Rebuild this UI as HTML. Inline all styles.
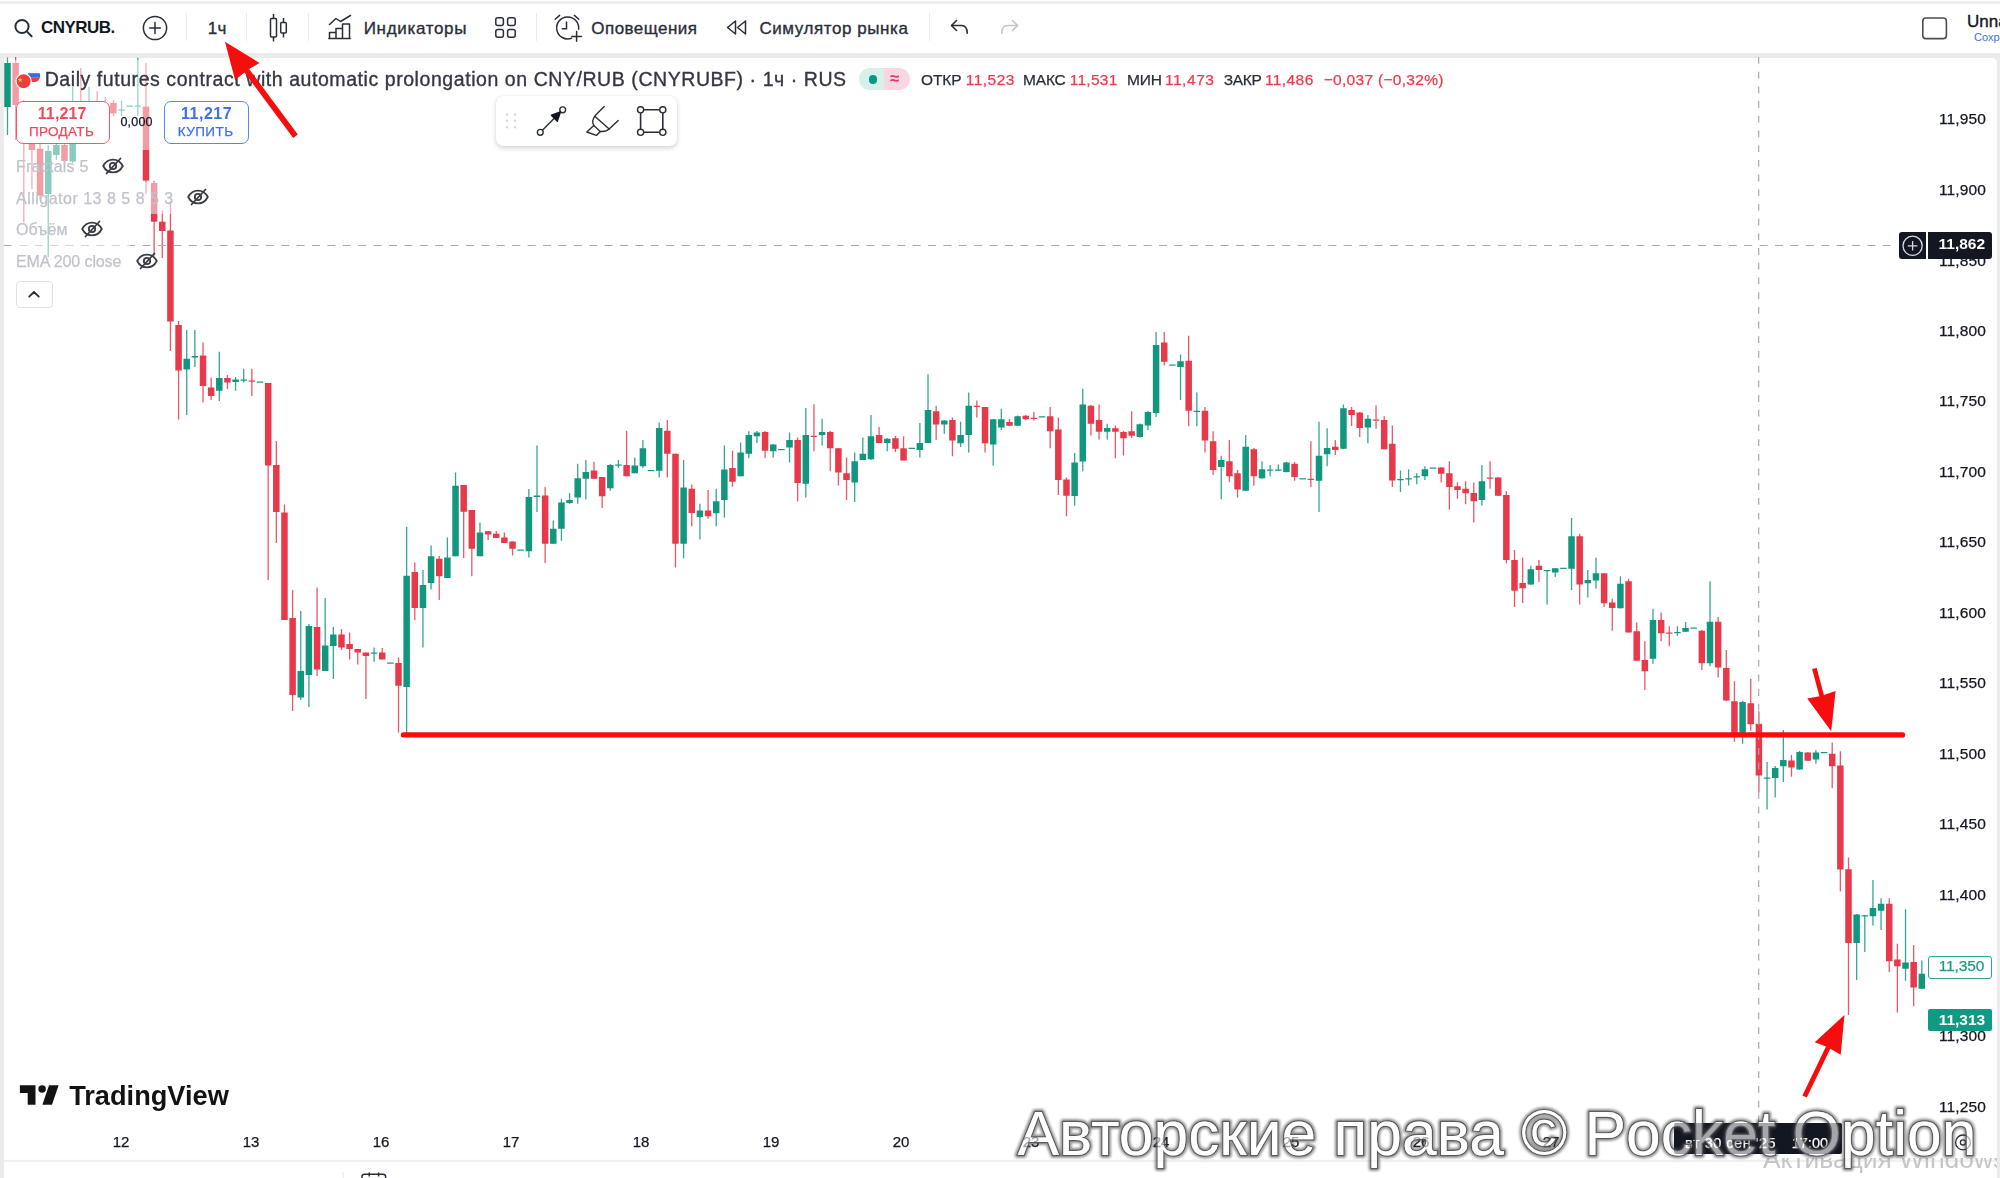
<!DOCTYPE html><html lang="ru"><head><meta charset="utf-8"><title>CNYRUBF chart</title><style>
*{box-sizing:border-box;margin:0;padding:0}
html,body{width:2000px;height:1178px;overflow:hidden;background:#fff}
body{font-family:"Liberation Sans","DejaVu Sans",sans-serif;color:#131722;position:relative}
.abs{position:absolute}
.t{position:absolute;white-space:nowrap;line-height:1;transform-origin:0 0}
#topstrip{left:0;top:1.4px;width:2000px;height:2.8px;background:#efefef}
#toolbar{left:0;top:4px;width:2000px;height:48px;background:#fff}
#band{left:0;top:52.6px;width:2000px;height:5.2px;background:#ebebeb}
#leftcol{left:0;top:52.6px;width:3.8px;height:1126px;background:#ebebeb}
#rightcol{left:1997px;top:52.6px;width:3px;height:1126px;background:#ebebeb}
#pane{left:3.8px;top:57.6px;width:1993.2px;height:1121px;background:#fff;border-radius:0 5px 0 0}
.sep{position:absolute;top:13px;width:1px;height:28px;background:#ebebee}
.tb{font-size:17px;color:#2a2e39;top:18px}
.pl{position:absolute;left:1937px;font-size:15.5px;letter-spacing:.12px;line-height:1;color:#131722;white-space:nowrap;width:49px;text-align:right}
.dl{position:absolute;top:1134px;font-size:15px;line-height:1;color:#131722;white-space:nowrap;width:40px;text-align:center}
#tb_tf,#tb_ind,#tb_al,#tb_sim,#lg_title,#tb_unn{-webkit-text-stroke:.35px currentColor}
.pl,.dl,#lg_o,#lg_h,#lg_l,#lg_c,#lg_ov,#lg_hv,#lg_lv,#lg_cv,#lg_ch,#spread,#sell_l,#buy_l,.lg,#ax_350,#ax_time,#ax_time2{-webkit-text-stroke:.25px currentColor}
.fade{position:absolute;background:rgba(255,255,255,.5)}
.lg{position:absolute;left:16px;font-size:16px;line-height:1;color:#c0c3ca;margin-top:.7px;white-space:nowrap}
#tb_sym{left:41.10px !important;letter-spacing:-0.550px}
#tb_tf{left:207.70px !important;letter-spacing:0.244px}
#tb_ind{left:363.70px !important;letter-spacing:0.676px}
#tb_al{left:591.30px !important;letter-spacing:0.457px}
#tb_sim{left:759.40px !important;letter-spacing:0.575px}
#lg_title{left:44.70px !important;letter-spacing:0.564px}
#lg_o{left:920.90px !important;letter-spacing:-0.027px}
#lg_ov{left:965.70px !important;letter-spacing:0.489px}
#lg_h{left:1022.90px !important;letter-spacing:-0.128px}
#lg_hv{left:1069.70px !important;letter-spacing:0.289px}
#lg_l{left:1126.90px !important;letter-spacing:-0.150px}
#lg_lv{left:1164.90px !important;letter-spacing:0.556px}
#lg_c{left:1223.70px !important;letter-spacing:-0.270px}
#lg_cv{left:1264.90px !important;letter-spacing:0.422px}
#lg_ch{left:1323.70px !important;letter-spacing:0.301px}
#lg1{left:16.00px !important;letter-spacing:0.245px}
#lg2{left:16.00px !important;letter-spacing:0.497px}
#lg3{left:16.00px !important;letter-spacing:0.143px}
#lg4{left:16.00px !important;letter-spacing:-0.110px}
#sell_p{left:37.70px !important;letter-spacing:0.156px}
#sell_l{left:28.90px !important;letter-spacing:0.339px}
#buy_p{left:180.95px !important;letter-spacing:0.531px}
#buy_l{left:177.70px !important;letter-spacing:0.440px}
#spread{left:120.45px !important;letter-spacing:0.194px}
#ax_time{left:1685.10px !important;letter-spacing:0.502px}
#ax_time2{left:1791.70px !important;letter-spacing:0.021px}
#tvlogo{left:69.20px !important;letter-spacing:-0.169px}
#ax_cross{left:1938.50px !important;letter-spacing:0.006px}
#ax_350{left:1938.70px !important;letter-spacing:-0.111px}
#ax_313{left:1938.70px !important;letter-spacing:-0.027px}
</style></head><body>
<div id="topstrip" class="abs"></div><div id="toolbar" class="abs"></div><div id="band" class="abs"></div>
<div class="abs" style="left:1989px;top:57px;width:8px;height:8px;background:#ebebeb"></div><div id="pane" class="abs"></div><div id="leftcol" class="abs"></div><div id="rightcol" class="abs"></div>
<svg class="abs" style="left:0;top:0" width="2000" height="1178" viewBox="0 0 2000 1178">
<g style="filter:blur(.35px)">
<rect x="6.85" y="57.50" width="1.3" height="77.50" fill="#12977f" opacity=".85"/>
<rect x="4.25" y="63.00" width="6.5" height="44.00" fill="#12977f"/>
<rect x="15.00" y="57.00" width="1.3" height="83.00" fill="#e8394b" opacity=".85"/>
<rect x="12.40" y="63.00" width="6.5" height="42.00" fill="#e8394b"/>
<rect x="23.14" y="100.00" width="1.3" height="122.50" fill="#e8394b" opacity=".85"/>
<rect x="20.54" y="120.00" width="6.5" height="21.00" fill="#e8394b"/>
<rect x="31.29" y="120.00" width="1.3" height="69.00" fill="#e8394b" opacity=".85"/>
<rect x="28.69" y="144.00" width="6.5" height="6.00" fill="#e8394b"/>
<rect x="39.43" y="143.00" width="1.3" height="56.00" fill="#e8394b" opacity=".85"/>
<rect x="36.83" y="148.70" width="6.5" height="46.80" fill="#e8394b"/>
<rect x="47.58" y="145.00" width="1.3" height="112.00" fill="#12977f" opacity=".85"/>
<rect x="44.98" y="151.00" width="6.5" height="43.00" fill="#12977f"/>
<rect x="55.73" y="143.00" width="1.3" height="17.00" fill="#12977f" opacity=".85"/>
<rect x="53.13" y="145.00" width="6.5" height="10.00" fill="#12977f"/>
<rect x="63.87" y="143.00" width="1.3" height="20.00" fill="#e8394b" opacity=".85"/>
<rect x="61.27" y="145.00" width="6.5" height="16.00" fill="#e8394b"/>
<rect x="72.02" y="87.00" width="1.3" height="76.00" fill="#12977f" opacity=".85"/>
<rect x="69.42" y="130.00" width="6.5" height="31.50" fill="#12977f"/>
<rect x="80.16" y="68.00" width="1.3" height="70.00" fill="#e8394b" opacity=".85"/>
<rect x="77.56" y="110.00" width="6.5" height="25.00" fill="#e8394b"/>
<rect x="88.31" y="87.00" width="1.3" height="50.00" fill="#12977f" opacity=".85"/>
<rect x="85.71" y="112.00" width="6.5" height="23.00" fill="#12977f"/>
<rect x="96.46" y="91.00" width="1.3" height="37.00" fill="#e8394b" opacity=".85"/>
<rect x="93.86" y="108.00" width="6.5" height="17.00" fill="#e8394b"/>
<rect x="104.60" y="97.00" width="1.3" height="25.00" fill="#e8394b" opacity=".85"/>
<rect x="102.00" y="104.00" width="6.5" height="14.00" fill="#e8394b"/>
<rect x="112.75" y="100.00" width="1.3" height="16.00" fill="#e8394b" opacity=".85"/>
<rect x="110.15" y="103.00" width="6.5" height="10.40" fill="#e8394b"/>
<rect x="120.89" y="100.50" width="1.3" height="15.50" fill="#12977f" opacity=".85"/>
<rect x="118.29" y="109.50" width="6.5" height="1.20" fill="#12977f"/>
<rect x="126.44" y="105.50" width="6.5" height="1.20" fill="#12977f"/>
<rect x="137.19" y="57.70" width="1.3" height="58.30" fill="#12977f" opacity=".85"/>
<rect x="134.59" y="105.50" width="6.5" height="1.20" fill="#12977f"/>
<rect x="145.33" y="63.00" width="1.3" height="130.70" fill="#e8394b" opacity=".85"/>
<rect x="142.73" y="106.60" width="6.5" height="74.00" fill="#e8394b"/>
<rect x="153.48" y="181.00" width="1.3" height="74.60" fill="#e8394b" opacity=".85"/>
<rect x="150.88" y="183.00" width="6.5" height="38.70" fill="#e8394b"/>
<rect x="161.62" y="210.60" width="1.3" height="47.40" fill="#e8394b" opacity=".85"/>
<rect x="159.02" y="221.70" width="6.5" height="9.30" fill="#e8394b"/>
<rect x="169.77" y="201.00" width="1.3" height="150.00" fill="#e8394b" opacity=".85"/>
<rect x="167.17" y="230.50" width="6.5" height="91.00" fill="#e8394b"/>
<rect x="177.92" y="321.00" width="1.3" height="98.50" fill="#e8394b" opacity=".85"/>
<rect x="175.32" y="325.00" width="6.5" height="45.50" fill="#e8394b"/>
<rect x="186.06" y="330.00" width="1.3" height="85.00" fill="#12977f" opacity=".85"/>
<rect x="183.46" y="358.75" width="6.5" height="10.75" fill="#12977f"/>
<rect x="194.21" y="330.00" width="1.3" height="37.00" fill="#12977f" opacity=".85"/>
<rect x="191.61" y="356.00" width="6.5" height="1.50" fill="#12977f"/>
<rect x="202.35" y="342.50" width="1.3" height="60.00" fill="#e8394b" opacity=".85"/>
<rect x="199.75" y="355.50" width="6.5" height="30.50" fill="#e8394b"/>
<rect x="210.50" y="377.50" width="1.3" height="22.50" fill="#e8394b" opacity=".85"/>
<rect x="207.90" y="387.50" width="6.5" height="8.50" fill="#e8394b"/>
<rect x="218.65" y="351.75" width="1.3" height="49.25" fill="#12977f" opacity=".85"/>
<rect x="216.05" y="378.00" width="6.5" height="12.75" fill="#12977f"/>
<rect x="226.79" y="375.00" width="1.3" height="14.00" fill="#e8394b" opacity=".85"/>
<rect x="224.19" y="378.00" width="6.5" height="4.50" fill="#e8394b"/>
<rect x="234.94" y="377.00" width="1.3" height="13.75" fill="#12977f" opacity=".85"/>
<rect x="232.34" y="379.50" width="6.5" height="2.50" fill="#12977f"/>
<rect x="243.08" y="368.75" width="1.3" height="13.75" fill="#12977f" opacity=".85"/>
<rect x="240.48" y="379.50" width="6.5" height="1.20" fill="#12977f"/>
<rect x="251.23" y="368.75" width="1.3" height="27.25" fill="#e8394b" opacity=".85"/>
<rect x="248.63" y="380.50" width="6.5" height="1.20" fill="#e8394b"/>
<rect x="256.78" y="381.50" width="6.5" height="1.20" fill="#12977f"/>
<rect x="267.52" y="383.00" width="1.3" height="197.00" fill="#e8394b" opacity=".85"/>
<rect x="264.92" y="383.00" width="6.5" height="82.50" fill="#e8394b"/>
<rect x="275.67" y="441.00" width="1.3" height="102.00" fill="#e8394b" opacity=".85"/>
<rect x="273.07" y="465.00" width="6.5" height="47.00" fill="#e8394b"/>
<rect x="283.81" y="504.50" width="1.3" height="115.50" fill="#e8394b" opacity=".85"/>
<rect x="281.21" y="512.50" width="6.5" height="107.50" fill="#e8394b"/>
<rect x="291.96" y="590.00" width="1.3" height="121.00" fill="#e8394b" opacity=".85"/>
<rect x="289.36" y="618.00" width="6.5" height="77.00" fill="#e8394b"/>
<rect x="300.11" y="611.00" width="1.3" height="89.00" fill="#12977f" opacity=".85"/>
<rect x="297.51" y="671.00" width="6.5" height="26.50" fill="#12977f"/>
<rect x="308.25" y="624.00" width="1.3" height="83.00" fill="#12977f" opacity=".85"/>
<rect x="305.65" y="626.00" width="6.5" height="49.00" fill="#12977f"/>
<rect x="316.40" y="587.50" width="1.3" height="88.50" fill="#e8394b" opacity=".85"/>
<rect x="313.80" y="627.00" width="6.5" height="42.50" fill="#e8394b"/>
<rect x="324.54" y="598.00" width="1.3" height="73.00" fill="#12977f" opacity=".85"/>
<rect x="321.94" y="645.50" width="6.5" height="25.50" fill="#12977f"/>
<rect x="332.69" y="627.00" width="1.3" height="52.00" fill="#12977f" opacity=".85"/>
<rect x="330.09" y="634.50" width="6.5" height="11.50" fill="#12977f"/>
<rect x="340.84" y="629.00" width="1.3" height="21.00" fill="#e8394b" opacity=".85"/>
<rect x="338.24" y="634.50" width="6.5" height="13.00" fill="#e8394b"/>
<rect x="348.98" y="632.50" width="1.3" height="27.00" fill="#e8394b" opacity=".85"/>
<rect x="346.38" y="644.00" width="6.5" height="5.00" fill="#e8394b"/>
<rect x="357.13" y="649.00" width="1.3" height="15.50" fill="#e8394b" opacity=".85"/>
<rect x="354.53" y="649.00" width="6.5" height="3.50" fill="#e8394b"/>
<rect x="365.27" y="652.50" width="1.3" height="46.50" fill="#e8394b" opacity=".85"/>
<rect x="362.67" y="652.50" width="6.5" height="3.50" fill="#e8394b"/>
<rect x="373.42" y="647.50" width="1.3" height="14.25" fill="#12977f" opacity=".85"/>
<rect x="370.82" y="652.50" width="6.5" height="1.20" fill="#12977f"/>
<rect x="381.57" y="648.00" width="1.3" height="11.50" fill="#e8394b" opacity=".85"/>
<rect x="378.97" y="652.50" width="6.5" height="7.00" fill="#e8394b"/>
<rect x="387.11" y="662.50" width="6.5" height="1.20" fill="#12977f"/>
<rect x="397.86" y="657.50" width="1.3" height="75.00" fill="#e8394b" opacity=".85"/>
<rect x="395.26" y="663.00" width="6.5" height="22.75" fill="#e8394b"/>
<rect x="406.00" y="526.75" width="1.3" height="207.25" fill="#12977f" opacity=".85"/>
<rect x="403.40" y="575.75" width="6.5" height="111.25" fill="#12977f"/>
<rect x="414.15" y="562.50" width="1.3" height="57.50" fill="#e8394b" opacity=".85"/>
<rect x="411.55" y="572.00" width="6.5" height="36.00" fill="#e8394b"/>
<rect x="422.30" y="570.00" width="1.3" height="77.50" fill="#12977f" opacity=".85"/>
<rect x="419.70" y="585.00" width="6.5" height="23.00" fill="#12977f"/>
<rect x="430.44" y="545.50" width="1.3" height="44.00" fill="#12977f" opacity=".85"/>
<rect x="427.84" y="556.25" width="6.5" height="26.75" fill="#12977f"/>
<rect x="438.59" y="556.00" width="1.3" height="44.00" fill="#e8394b" opacity=".85"/>
<rect x="435.99" y="558.75" width="6.5" height="17.50" fill="#e8394b"/>
<rect x="446.73" y="537.50" width="1.3" height="40.50" fill="#12977f" opacity=".85"/>
<rect x="444.13" y="557.50" width="6.5" height="20.50" fill="#12977f"/>
<rect x="454.88" y="472.50" width="1.3" height="83.75" fill="#12977f" opacity=".85"/>
<rect x="452.28" y="485.75" width="6.5" height="70.50" fill="#12977f"/>
<rect x="463.03" y="485.00" width="1.3" height="73.00" fill="#e8394b" opacity=".85"/>
<rect x="460.43" y="485.00" width="6.5" height="26.75" fill="#e8394b"/>
<rect x="471.17" y="510.00" width="1.3" height="66.25" fill="#e8394b" opacity=".85"/>
<rect x="468.57" y="510.00" width="6.5" height="38.75" fill="#e8394b"/>
<rect x="479.32" y="522.50" width="1.3" height="33.75" fill="#12977f" opacity=".85"/>
<rect x="476.72" y="532.50" width="6.5" height="23.75" fill="#12977f"/>
<rect x="487.46" y="531.00" width="1.3" height="9.00" fill="#e8394b" opacity=".85"/>
<rect x="484.86" y="531.25" width="6.5" height="3.25" fill="#e8394b"/>
<rect x="495.61" y="531.00" width="1.3" height="7.00" fill="#e8394b" opacity=".85"/>
<rect x="493.01" y="533.75" width="6.5" height="4.25" fill="#e8394b"/>
<rect x="503.76" y="532.50" width="1.3" height="10.50" fill="#e8394b" opacity=".85"/>
<rect x="501.16" y="537.50" width="6.5" height="5.50" fill="#e8394b"/>
<rect x="511.90" y="541.50" width="1.3" height="14.00" fill="#e8394b" opacity=".85"/>
<rect x="509.30" y="541.50" width="6.5" height="7.25" fill="#e8394b"/>
<rect x="517.45" y="549.50" width="6.5" height="1.20" fill="#12977f"/>
<rect x="528.19" y="489.00" width="1.3" height="68.50" fill="#12977f" opacity=".85"/>
<rect x="525.59" y="497.00" width="6.5" height="54.25" fill="#12977f"/>
<rect x="536.34" y="445.50" width="1.3" height="66.50" fill="#12977f" opacity=".85"/>
<rect x="533.74" y="495.50" width="6.5" height="1.50" fill="#12977f"/>
<rect x="544.49" y="487.00" width="1.3" height="76.00" fill="#e8394b" opacity=".85"/>
<rect x="541.89" y="495.50" width="6.5" height="48.25" fill="#e8394b"/>
<rect x="552.63" y="520.50" width="1.3" height="23.25" fill="#12977f" opacity=".85"/>
<rect x="550.03" y="528.75" width="6.5" height="15.00" fill="#12977f"/>
<rect x="560.78" y="498.75" width="1.3" height="42.00" fill="#12977f" opacity=".85"/>
<rect x="558.18" y="502.50" width="6.5" height="26.25" fill="#12977f"/>
<rect x="568.92" y="493.00" width="1.3" height="11.00" fill="#12977f" opacity=".85"/>
<rect x="566.32" y="500.00" width="6.5" height="3.00" fill="#12977f"/>
<rect x="577.07" y="463.75" width="1.3" height="40.00" fill="#12977f" opacity=".85"/>
<rect x="574.47" y="478.25" width="6.5" height="19.25" fill="#12977f"/>
<rect x="585.22" y="460.00" width="1.3" height="39.50" fill="#12977f" opacity=".85"/>
<rect x="582.62" y="472.00" width="6.5" height="6.75" fill="#12977f"/>
<rect x="593.36" y="461.75" width="1.3" height="17.00" fill="#e8394b" opacity=".85"/>
<rect x="590.76" y="470.50" width="6.5" height="8.25" fill="#e8394b"/>
<rect x="601.51" y="477.00" width="1.3" height="31.00" fill="#e8394b" opacity=".85"/>
<rect x="598.91" y="477.00" width="6.5" height="19.25" fill="#e8394b"/>
<rect x="609.65" y="464.00" width="1.3" height="26.75" fill="#12977f" opacity=".85"/>
<rect x="607.05" y="465.00" width="6.5" height="23.25" fill="#12977f"/>
<rect x="617.80" y="460.00" width="1.3" height="8.00" fill="#12977f" opacity=".85"/>
<rect x="615.20" y="464.50" width="6.5" height="1.20" fill="#12977f"/>
<rect x="625.95" y="430.75" width="1.3" height="45.50" fill="#e8394b" opacity=".85"/>
<rect x="623.35" y="465.00" width="6.5" height="11.25" fill="#e8394b"/>
<rect x="634.09" y="457.50" width="1.3" height="15.75" fill="#12977f" opacity=".85"/>
<rect x="631.49" y="465.50" width="6.5" height="7.75" fill="#12977f"/>
<rect x="642.24" y="440.00" width="1.3" height="28.00" fill="#12977f" opacity=".85"/>
<rect x="639.64" y="448.25" width="6.5" height="18.00" fill="#12977f"/>
<rect x="647.78" y="470.00" width="6.5" height="1.20" fill="#12977f"/>
<rect x="658.53" y="422.50" width="1.3" height="55.00" fill="#12977f" opacity=".85"/>
<rect x="655.93" y="428.00" width="6.5" height="42.75" fill="#12977f"/>
<rect x="666.68" y="420.00" width="1.3" height="57.50" fill="#e8394b" opacity=".85"/>
<rect x="664.08" y="430.75" width="6.5" height="23.00" fill="#e8394b"/>
<rect x="674.82" y="453.75" width="1.3" height="113.75" fill="#e8394b" opacity=".85"/>
<rect x="672.22" y="453.75" width="6.5" height="90.00" fill="#e8394b"/>
<rect x="682.97" y="460.00" width="1.3" height="98.25" fill="#12977f" opacity=".85"/>
<rect x="680.37" y="487.50" width="6.5" height="56.25" fill="#12977f"/>
<rect x="691.11" y="484.50" width="1.3" height="41.75" fill="#e8394b" opacity=".85"/>
<rect x="688.51" y="488.75" width="6.5" height="24.25" fill="#e8394b"/>
<rect x="699.26" y="503.75" width="1.3" height="35.75" fill="#12977f" opacity=".85"/>
<rect x="696.66" y="510.50" width="6.5" height="6.50" fill="#12977f"/>
<rect x="707.41" y="490.00" width="1.3" height="28.75" fill="#e8394b" opacity=".85"/>
<rect x="704.81" y="510.50" width="6.5" height="5.75" fill="#e8394b"/>
<rect x="715.55" y="488.75" width="1.3" height="37.50" fill="#12977f" opacity=".85"/>
<rect x="712.95" y="501.25" width="6.5" height="12.00" fill="#12977f"/>
<rect x="723.70" y="445.50" width="1.3" height="72.00" fill="#12977f" opacity=".85"/>
<rect x="721.10" y="469.50" width="6.5" height="30.50" fill="#12977f"/>
<rect x="731.84" y="450.75" width="1.3" height="36.00" fill="#e8394b" opacity=".85"/>
<rect x="729.24" y="468.00" width="6.5" height="13.75" fill="#e8394b"/>
<rect x="739.99" y="442.50" width="1.3" height="33.75" fill="#12977f" opacity=".85"/>
<rect x="737.39" y="452.50" width="6.5" height="23.75" fill="#12977f"/>
<rect x="748.14" y="431.25" width="1.3" height="26.75" fill="#12977f" opacity=".85"/>
<rect x="745.54" y="435.00" width="6.5" height="18.75" fill="#12977f"/>
<rect x="756.28" y="431.00" width="1.3" height="12.00" fill="#12977f" opacity=".85"/>
<rect x="753.68" y="432.50" width="6.5" height="3.75" fill="#12977f"/>
<rect x="764.43" y="431.00" width="1.3" height="27.00" fill="#e8394b" opacity=".85"/>
<rect x="761.83" y="432.00" width="6.5" height="18.75" fill="#e8394b"/>
<rect x="772.57" y="444.00" width="1.3" height="13.50" fill="#12977f" opacity=".85"/>
<rect x="769.97" y="444.50" width="6.5" height="6.75" fill="#12977f"/>
<rect x="778.12" y="449.00" width="6.5" height="1.20" fill="#12977f"/>
<rect x="788.87" y="432.50" width="1.3" height="30.00" fill="#12977f" opacity=".85"/>
<rect x="786.27" y="440.00" width="6.5" height="7.50" fill="#12977f"/>
<rect x="797.01" y="437.50" width="1.3" height="64.00" fill="#e8394b" opacity=".85"/>
<rect x="794.41" y="440.00" width="6.5" height="43.00" fill="#e8394b"/>
<rect x="805.16" y="408.00" width="1.3" height="89.50" fill="#12977f" opacity=".85"/>
<rect x="802.56" y="435.00" width="6.5" height="48.75" fill="#12977f"/>
<rect x="813.30" y="404.25" width="1.3" height="47.00" fill="#e8394b" opacity=".85"/>
<rect x="810.70" y="435.75" width="6.5" height="1.20" fill="#e8394b"/>
<rect x="821.45" y="418.75" width="1.3" height="26.75" fill="#12977f" opacity=".85"/>
<rect x="818.85" y="432.00" width="6.5" height="3.00" fill="#12977f"/>
<rect x="829.60" y="431.00" width="1.3" height="40.25" fill="#e8394b" opacity=".85"/>
<rect x="827.00" y="432.00" width="6.5" height="16.25" fill="#e8394b"/>
<rect x="837.74" y="448.00" width="1.3" height="37.50" fill="#e8394b" opacity=".85"/>
<rect x="835.14" y="448.25" width="6.5" height="24.25" fill="#e8394b"/>
<rect x="845.89" y="457.50" width="1.3" height="42.50" fill="#e8394b" opacity=".85"/>
<rect x="843.29" y="473.25" width="6.5" height="6.75" fill="#e8394b"/>
<rect x="854.03" y="452.50" width="1.3" height="49.50" fill="#12977f" opacity=".85"/>
<rect x="851.43" y="461.25" width="6.5" height="21.25" fill="#12977f"/>
<rect x="862.18" y="437.50" width="1.3" height="22.50" fill="#12977f" opacity=".85"/>
<rect x="859.58" y="453.75" width="6.5" height="6.25" fill="#12977f"/>
<rect x="870.33" y="415.00" width="1.3" height="45.00" fill="#12977f" opacity=".85"/>
<rect x="867.73" y="436.25" width="6.5" height="23.00" fill="#12977f"/>
<rect x="878.47" y="427.00" width="1.3" height="16.00" fill="#e8394b" opacity=".85"/>
<rect x="875.87" y="435.00" width="6.5" height="8.00" fill="#e8394b"/>
<rect x="886.62" y="438.00" width="1.3" height="13.25" fill="#12977f" opacity=".85"/>
<rect x="884.02" y="438.75" width="6.5" height="4.25" fill="#12977f"/>
<rect x="894.76" y="436.00" width="1.3" height="16.00" fill="#e8394b" opacity=".85"/>
<rect x="892.16" y="438.25" width="6.5" height="10.50" fill="#e8394b"/>
<rect x="902.91" y="436.25" width="1.3" height="24.25" fill="#e8394b" opacity=".85"/>
<rect x="900.31" y="448.25" width="6.5" height="12.25" fill="#e8394b"/>
<rect x="908.46" y="447.75" width="6.5" height="1.20" fill="#12977f"/>
<rect x="919.20" y="423.00" width="1.3" height="34.50" fill="#12977f" opacity=".85"/>
<rect x="916.60" y="443.00" width="6.5" height="7.00" fill="#12977f"/>
<rect x="927.35" y="374.25" width="1.3" height="68.75" fill="#12977f" opacity=".85"/>
<rect x="924.75" y="410.00" width="6.5" height="33.00" fill="#12977f"/>
<rect x="935.49" y="405.75" width="1.3" height="34.25" fill="#e8394b" opacity=".85"/>
<rect x="932.89" y="411.25" width="6.5" height="13.25" fill="#e8394b"/>
<rect x="943.64" y="420.00" width="1.3" height="13.75" fill="#12977f" opacity=".85"/>
<rect x="941.04" y="420.50" width="6.5" height="4.00" fill="#12977f"/>
<rect x="951.79" y="417.50" width="1.3" height="38.75" fill="#e8394b" opacity=".85"/>
<rect x="949.19" y="420.00" width="6.5" height="20.50" fill="#e8394b"/>
<rect x="959.93" y="421.75" width="1.3" height="25.25" fill="#12977f" opacity=".85"/>
<rect x="957.33" y="435.00" width="6.5" height="8.25" fill="#12977f"/>
<rect x="968.08" y="392.50" width="1.3" height="60.00" fill="#12977f" opacity=".85"/>
<rect x="965.48" y="405.75" width="6.5" height="29.25" fill="#12977f"/>
<rect x="976.22" y="400.50" width="1.3" height="17.00" fill="#e8394b" opacity=".85"/>
<rect x="973.62" y="405.75" width="6.5" height="1.20" fill="#e8394b"/>
<rect x="984.37" y="407.00" width="1.3" height="45.50" fill="#e8394b" opacity=".85"/>
<rect x="981.77" y="407.00" width="6.5" height="36.25" fill="#e8394b"/>
<rect x="992.52" y="419.00" width="1.3" height="46.75" fill="#12977f" opacity=".85"/>
<rect x="989.92" y="419.25" width="6.5" height="25.25" fill="#12977f"/>
<rect x="1000.66" y="408.75" width="1.3" height="21.25" fill="#12977f" opacity=".85"/>
<rect x="998.06" y="419.25" width="6.5" height="8.25" fill="#12977f"/>
<rect x="1008.81" y="419.00" width="1.3" height="7.00" fill="#e8394b" opacity=".85"/>
<rect x="1006.21" y="422.00" width="6.5" height="3.75" fill="#e8394b"/>
<rect x="1016.95" y="415.50" width="1.3" height="10.50" fill="#12977f" opacity=".85"/>
<rect x="1014.35" y="416.25" width="6.5" height="9.50" fill="#12977f"/>
<rect x="1025.10" y="415.00" width="1.3" height="5.00" fill="#e8394b" opacity=".85"/>
<rect x="1022.50" y="415.75" width="6.5" height="3.50" fill="#e8394b"/>
<rect x="1033.25" y="412.00" width="1.3" height="8.50" fill="#e8394b" opacity=".85"/>
<rect x="1030.65" y="417.75" width="6.5" height="1.20" fill="#e8394b"/>
<rect x="1038.79" y="416.25" width="6.5" height="1.20" fill="#12977f"/>
<rect x="1049.54" y="407.00" width="1.3" height="41.25" fill="#e8394b" opacity=".85"/>
<rect x="1046.94" y="416.25" width="6.5" height="15.00" fill="#e8394b"/>
<rect x="1057.68" y="417.50" width="1.3" height="77.50" fill="#e8394b" opacity=".85"/>
<rect x="1055.08" y="429.50" width="6.5" height="50.50" fill="#e8394b"/>
<rect x="1065.83" y="477.50" width="1.3" height="38.75" fill="#e8394b" opacity=".85"/>
<rect x="1063.23" y="479.50" width="6.5" height="16.25" fill="#e8394b"/>
<rect x="1073.98" y="453.00" width="1.3" height="52.75" fill="#12977f" opacity=".85"/>
<rect x="1071.38" y="462.50" width="6.5" height="33.50" fill="#12977f"/>
<rect x="1082.12" y="388.75" width="1.3" height="82.50" fill="#12977f" opacity=".85"/>
<rect x="1079.52" y="404.50" width="6.5" height="57.00" fill="#12977f"/>
<rect x="1090.27" y="405.00" width="1.3" height="30.50" fill="#e8394b" opacity=".85"/>
<rect x="1087.67" y="405.75" width="6.5" height="18.00" fill="#e8394b"/>
<rect x="1098.41" y="404.50" width="1.3" height="35.00" fill="#e8394b" opacity=".85"/>
<rect x="1095.81" y="420.00" width="6.5" height="11.75" fill="#e8394b"/>
<rect x="1106.56" y="423.75" width="1.3" height="15.75" fill="#12977f" opacity=".85"/>
<rect x="1103.96" y="428.00" width="6.5" height="3.75" fill="#12977f"/>
<rect x="1114.71" y="425.50" width="1.3" height="32.75" fill="#e8394b" opacity=".85"/>
<rect x="1112.11" y="428.25" width="6.5" height="3.50" fill="#e8394b"/>
<rect x="1122.85" y="431.00" width="1.3" height="24.50" fill="#e8394b" opacity=".85"/>
<rect x="1120.25" y="432.00" width="6.5" height="6.25" fill="#e8394b"/>
<rect x="1131.00" y="411.25" width="1.3" height="26.75" fill="#e8394b" opacity=".85"/>
<rect x="1128.40" y="431.25" width="6.5" height="4.50" fill="#e8394b"/>
<rect x="1139.14" y="423.50" width="1.3" height="14.00" fill="#12977f" opacity=".85"/>
<rect x="1136.54" y="424.25" width="6.5" height="12.75" fill="#12977f"/>
<rect x="1147.29" y="411.00" width="1.3" height="19.00" fill="#12977f" opacity=".85"/>
<rect x="1144.69" y="412.00" width="6.5" height="13.50" fill="#12977f"/>
<rect x="1155.44" y="332.00" width="1.3" height="85.00" fill="#12977f" opacity=".85"/>
<rect x="1152.84" y="345.00" width="6.5" height="68.00" fill="#12977f"/>
<rect x="1163.58" y="332.00" width="1.3" height="33.50" fill="#e8394b" opacity=".85"/>
<rect x="1160.98" y="342.50" width="6.5" height="19.25" fill="#e8394b"/>
<rect x="1169.13" y="364.50" width="6.5" height="1.20" fill="#12977f"/>
<rect x="1179.87" y="354.50" width="1.3" height="45.50" fill="#12977f" opacity=".85"/>
<rect x="1177.27" y="361.25" width="6.5" height="5.75" fill="#12977f"/>
<rect x="1188.02" y="335.75" width="1.3" height="90.50" fill="#e8394b" opacity=".85"/>
<rect x="1185.42" y="360.75" width="6.5" height="50.00" fill="#e8394b"/>
<rect x="1196.17" y="392.50" width="1.3" height="33.75" fill="#12977f" opacity=".85"/>
<rect x="1193.57" y="410.75" width="6.5" height="1.20" fill="#12977f"/>
<rect x="1204.31" y="407.00" width="1.3" height="45.50" fill="#e8394b" opacity=".85"/>
<rect x="1201.71" y="410.75" width="6.5" height="29.75" fill="#e8394b"/>
<rect x="1212.46" y="431.25" width="1.3" height="43.75" fill="#e8394b" opacity=".85"/>
<rect x="1209.86" y="441.25" width="6.5" height="28.75" fill="#e8394b"/>
<rect x="1220.60" y="455.75" width="1.3" height="43.50" fill="#12977f" opacity=".85"/>
<rect x="1218.00" y="460.00" width="6.5" height="7.00" fill="#12977f"/>
<rect x="1228.75" y="440.00" width="1.3" height="42.00" fill="#e8394b" opacity=".85"/>
<rect x="1226.15" y="461.25" width="6.5" height="15.00" fill="#e8394b"/>
<rect x="1236.90" y="470.00" width="1.3" height="27.50" fill="#e8394b" opacity=".85"/>
<rect x="1234.30" y="473.25" width="6.5" height="16.25" fill="#e8394b"/>
<rect x="1245.04" y="435.00" width="1.3" height="56.00" fill="#12977f" opacity=".85"/>
<rect x="1242.44" y="446.75" width="6.5" height="44.00" fill="#12977f"/>
<rect x="1253.19" y="448.00" width="1.3" height="37.75" fill="#e8394b" opacity=".85"/>
<rect x="1250.59" y="449.25" width="6.5" height="27.00" fill="#e8394b"/>
<rect x="1261.33" y="461.25" width="1.3" height="17.75" fill="#12977f" opacity=".85"/>
<rect x="1258.73" y="469.25" width="6.5" height="9.00" fill="#12977f"/>
<rect x="1269.48" y="465.00" width="1.3" height="11.25" fill="#12977f" opacity=".85"/>
<rect x="1266.88" y="469.50" width="6.5" height="1.20" fill="#12977f"/>
<rect x="1277.63" y="464.50" width="1.3" height="6.50" fill="#12977f" opacity=".85"/>
<rect x="1275.03" y="469.50" width="6.5" height="1.20" fill="#12977f"/>
<rect x="1285.77" y="462.00" width="1.3" height="10.50" fill="#12977f" opacity=".85"/>
<rect x="1283.17" y="462.50" width="6.5" height="9.50" fill="#12977f"/>
<rect x="1293.92" y="462.00" width="1.3" height="18.75" fill="#e8394b" opacity=".85"/>
<rect x="1291.32" y="463.75" width="6.5" height="13.25" fill="#e8394b"/>
<rect x="1299.46" y="478.25" width="6.5" height="1.20" fill="#12977f"/>
<rect x="1310.21" y="441.25" width="1.3" height="45.75" fill="#e8394b" opacity=".85"/>
<rect x="1307.61" y="478.75" width="6.5" height="1.20" fill="#e8394b"/>
<rect x="1318.36" y="421.75" width="1.3" height="90.25" fill="#12977f" opacity=".85"/>
<rect x="1315.76" y="455.75" width="6.5" height="25.00" fill="#12977f"/>
<rect x="1326.50" y="428.25" width="1.3" height="38.00" fill="#12977f" opacity=".85"/>
<rect x="1323.90" y="448.00" width="6.5" height="6.25" fill="#12977f"/>
<rect x="1334.65" y="440.00" width="1.3" height="15.00" fill="#e8394b" opacity=".85"/>
<rect x="1332.05" y="446.75" width="6.5" height="3.25" fill="#e8394b"/>
<rect x="1342.79" y="404.50" width="1.3" height="44.50" fill="#12977f" opacity=".85"/>
<rect x="1340.19" y="408.25" width="6.5" height="40.50" fill="#12977f"/>
<rect x="1350.94" y="407.00" width="1.3" height="19.00" fill="#e8394b" opacity=".85"/>
<rect x="1348.34" y="410.00" width="6.5" height="5.00" fill="#e8394b"/>
<rect x="1359.09" y="412.00" width="1.3" height="25.00" fill="#e8394b" opacity=".85"/>
<rect x="1356.49" y="412.50" width="6.5" height="15.50" fill="#e8394b"/>
<rect x="1367.23" y="415.00" width="1.3" height="28.25" fill="#12977f" opacity=".85"/>
<rect x="1364.63" y="418.75" width="6.5" height="8.75" fill="#12977f"/>
<rect x="1375.38" y="405.50" width="1.3" height="23.25" fill="#e8394b" opacity=".85"/>
<rect x="1372.78" y="419.50" width="6.5" height="1.20" fill="#e8394b"/>
<rect x="1383.52" y="416.25" width="1.3" height="33.25" fill="#e8394b" opacity=".85"/>
<rect x="1380.92" y="420.00" width="6.5" height="29.25" fill="#e8394b"/>
<rect x="1391.67" y="425.50" width="1.3" height="61.50" fill="#e8394b" opacity=".85"/>
<rect x="1389.07" y="443.75" width="6.5" height="36.75" fill="#e8394b"/>
<rect x="1399.82" y="470.50" width="1.3" height="21.50" fill="#12977f" opacity=".85"/>
<rect x="1397.22" y="479.00" width="6.5" height="1.20" fill="#12977f"/>
<rect x="1407.96" y="469.25" width="1.3" height="16.25" fill="#12977f" opacity=".85"/>
<rect x="1405.36" y="478.25" width="6.5" height="1.20" fill="#12977f"/>
<rect x="1416.11" y="473.25" width="1.3" height="11.00" fill="#12977f" opacity=".85"/>
<rect x="1413.51" y="476.25" width="6.5" height="1.20" fill="#12977f"/>
<rect x="1424.25" y="466.25" width="1.3" height="13.75" fill="#12977f" opacity=".85"/>
<rect x="1421.65" y="469.25" width="6.5" height="7.00" fill="#12977f"/>
<rect x="1429.80" y="467.50" width="6.5" height="1.20" fill="#12977f"/>
<rect x="1440.55" y="467.00" width="1.3" height="15.50" fill="#e8394b" opacity=".85"/>
<rect x="1437.95" y="467.50" width="6.5" height="6.25" fill="#e8394b"/>
<rect x="1448.69" y="461.25" width="1.3" height="48.25" fill="#e8394b" opacity=".85"/>
<rect x="1446.09" y="473.25" width="6.5" height="13.75" fill="#e8394b"/>
<rect x="1456.84" y="482.50" width="1.3" height="16.25" fill="#e8394b" opacity=".85"/>
<rect x="1454.24" y="486.25" width="6.5" height="3.75" fill="#e8394b"/>
<rect x="1464.98" y="481.25" width="1.3" height="23.00" fill="#e8394b" opacity=".85"/>
<rect x="1462.38" y="488.75" width="6.5" height="4.50" fill="#e8394b"/>
<rect x="1473.13" y="482.50" width="1.3" height="40.00" fill="#e8394b" opacity=".85"/>
<rect x="1470.53" y="493.00" width="6.5" height="8.25" fill="#e8394b"/>
<rect x="1481.28" y="465.00" width="1.3" height="40.50" fill="#12977f" opacity=".85"/>
<rect x="1478.68" y="481.25" width="6.5" height="18.75" fill="#12977f"/>
<rect x="1489.42" y="461.25" width="1.3" height="27.50" fill="#e8394b" opacity=".85"/>
<rect x="1486.82" y="477.50" width="6.5" height="1.20" fill="#e8394b"/>
<rect x="1497.57" y="477.00" width="1.3" height="19.00" fill="#e8394b" opacity=".85"/>
<rect x="1494.97" y="477.50" width="6.5" height="18.25" fill="#e8394b"/>
<rect x="1505.71" y="491.25" width="1.3" height="72.00" fill="#e8394b" opacity=".85"/>
<rect x="1503.11" y="495.00" width="6.5" height="65.00" fill="#e8394b"/>
<rect x="1513.86" y="550.00" width="1.3" height="57.00" fill="#e8394b" opacity=".85"/>
<rect x="1511.26" y="560.00" width="6.5" height="30.75" fill="#e8394b"/>
<rect x="1522.01" y="557.50" width="1.3" height="45.50" fill="#e8394b" opacity=".85"/>
<rect x="1519.41" y="583.00" width="6.5" height="5.25" fill="#e8394b"/>
<rect x="1530.15" y="565.75" width="1.3" height="19.25" fill="#12977f" opacity=".85"/>
<rect x="1527.55" y="569.25" width="6.5" height="15.25" fill="#12977f"/>
<rect x="1538.30" y="560.00" width="1.3" height="22.00" fill="#e8394b" opacity=".85"/>
<rect x="1535.70" y="565.75" width="6.5" height="4.25" fill="#e8394b"/>
<rect x="1546.44" y="570.00" width="1.3" height="34.50" fill="#12977f" opacity=".85"/>
<rect x="1543.84" y="570.00" width="6.5" height="1.20" fill="#12977f"/>
<rect x="1554.59" y="568.00" width="1.3" height="9.00" fill="#12977f" opacity=".85"/>
<rect x="1551.99" y="568.25" width="6.5" height="4.25" fill="#12977f"/>
<rect x="1560.14" y="567.75" width="6.5" height="1.20" fill="#12977f"/>
<rect x="1570.88" y="518.00" width="1.3" height="72.00" fill="#12977f" opacity=".85"/>
<rect x="1568.28" y="536.25" width="6.5" height="32.50" fill="#12977f"/>
<rect x="1579.03" y="533.75" width="1.3" height="70.75" fill="#e8394b" opacity=".85"/>
<rect x="1576.43" y="536.25" width="6.5" height="48.25" fill="#e8394b"/>
<rect x="1587.17" y="570.00" width="1.3" height="27.50" fill="#12977f" opacity=".85"/>
<rect x="1584.57" y="580.00" width="6.5" height="3.25" fill="#12977f"/>
<rect x="1595.32" y="557.50" width="1.3" height="31.25" fill="#12977f" opacity=".85"/>
<rect x="1592.72" y="573.25" width="6.5" height="7.25" fill="#12977f"/>
<rect x="1603.47" y="573.00" width="1.3" height="34.00" fill="#e8394b" opacity=".85"/>
<rect x="1600.87" y="573.25" width="6.5" height="30.00" fill="#e8394b"/>
<rect x="1611.61" y="598.75" width="1.3" height="32.00" fill="#e8394b" opacity=".85"/>
<rect x="1609.01" y="602.50" width="6.5" height="5.50" fill="#e8394b"/>
<rect x="1619.76" y="576.25" width="1.3" height="32.25" fill="#12977f" opacity=".85"/>
<rect x="1617.16" y="583.75" width="6.5" height="24.50" fill="#12977f"/>
<rect x="1627.90" y="578.75" width="1.3" height="53.75" fill="#e8394b" opacity=".85"/>
<rect x="1625.30" y="581.25" width="6.5" height="51.25" fill="#e8394b"/>
<rect x="1636.05" y="622.50" width="1.3" height="38.50" fill="#e8394b" opacity=".85"/>
<rect x="1633.45" y="631.25" width="6.5" height="29.50" fill="#e8394b"/>
<rect x="1644.20" y="641.25" width="1.3" height="48.75" fill="#e8394b" opacity=".85"/>
<rect x="1641.60" y="660.00" width="6.5" height="11.25" fill="#e8394b"/>
<rect x="1652.34" y="608.75" width="1.3" height="55.00" fill="#12977f" opacity=".85"/>
<rect x="1649.74" y="620.00" width="6.5" height="38.75" fill="#12977f"/>
<rect x="1660.49" y="612.50" width="1.3" height="28.75" fill="#e8394b" opacity=".85"/>
<rect x="1657.89" y="620.00" width="6.5" height="13.25" fill="#e8394b"/>
<rect x="1668.63" y="626.25" width="1.3" height="20.00" fill="#e8394b" opacity=".85"/>
<rect x="1666.03" y="632.50" width="6.5" height="1.20" fill="#e8394b"/>
<rect x="1676.78" y="626.25" width="1.3" height="9.50" fill="#12977f" opacity=".85"/>
<rect x="1674.18" y="632.00" width="6.5" height="1.20" fill="#12977f"/>
<rect x="1684.93" y="622.00" width="1.3" height="10.00" fill="#12977f" opacity=".85"/>
<rect x="1682.33" y="628.00" width="6.5" height="3.75" fill="#12977f"/>
<rect x="1690.47" y="627.50" width="6.5" height="1.20" fill="#12977f"/>
<rect x="1701.22" y="630.00" width="1.3" height="40.00" fill="#e8394b" opacity=".85"/>
<rect x="1698.62" y="630.75" width="6.5" height="32.50" fill="#e8394b"/>
<rect x="1709.36" y="581.25" width="1.3" height="85.00" fill="#12977f" opacity=".85"/>
<rect x="1706.76" y="621.75" width="6.5" height="41.50" fill="#12977f"/>
<rect x="1717.51" y="617.00" width="1.3" height="60.50" fill="#e8394b" opacity=".85"/>
<rect x="1714.91" y="621.75" width="6.5" height="45.75" fill="#e8394b"/>
<rect x="1725.66" y="650.00" width="1.3" height="51.00" fill="#e8394b" opacity=".85"/>
<rect x="1723.06" y="668.00" width="6.5" height="32.50" fill="#e8394b"/>
<rect x="1733.80" y="681.25" width="1.3" height="60.50" fill="#e8394b" opacity=".85"/>
<rect x="1731.20" y="701.25" width="6.5" height="33.75" fill="#e8394b"/>
<rect x="1741.95" y="701.00" width="1.3" height="42.75" fill="#12977f" opacity=".85"/>
<rect x="1739.35" y="702.00" width="6.5" height="31.75" fill="#12977f"/>
<rect x="1750.09" y="678.75" width="1.3" height="52.00" fill="#e8394b" opacity=".85"/>
<rect x="1747.49" y="703.25" width="6.5" height="21.00" fill="#e8394b"/>
<rect x="1758.24" y="711.25" width="1.3" height="81.25" fill="#e8394b" opacity=".85"/>
<rect x="1755.64" y="723.75" width="6.5" height="51.75" fill="#e8394b"/>
<rect x="1766.39" y="762.00" width="1.3" height="47.50" fill="#12977f" opacity=".85"/>
<rect x="1763.79" y="777.50" width="6.5" height="1.20" fill="#12977f"/>
<rect x="1774.53" y="766.00" width="1.3" height="31.50" fill="#12977f" opacity=".85"/>
<rect x="1771.93" y="768.00" width="6.5" height="10.00" fill="#12977f"/>
<rect x="1782.68" y="730.00" width="1.3" height="52.00" fill="#12977f" opacity=".85"/>
<rect x="1780.08" y="760.00" width="6.5" height="6.25" fill="#12977f"/>
<rect x="1790.82" y="755.00" width="1.3" height="21.75" fill="#e8394b" opacity=".85"/>
<rect x="1788.22" y="760.50" width="6.5" height="7.00" fill="#e8394b"/>
<rect x="1798.97" y="751.00" width="1.3" height="19.00" fill="#12977f" opacity=".85"/>
<rect x="1796.37" y="752.00" width="6.5" height="17.50" fill="#12977f"/>
<rect x="1807.12" y="752.00" width="1.3" height="9.00" fill="#e8394b" opacity=".85"/>
<rect x="1804.52" y="752.50" width="6.5" height="8.25" fill="#e8394b"/>
<rect x="1815.26" y="750.00" width="1.3" height="13.75" fill="#12977f" opacity=".85"/>
<rect x="1812.66" y="752.50" width="6.5" height="7.00" fill="#12977f"/>
<rect x="1820.81" y="752.00" width="6.5" height="1.20" fill="#12977f"/>
<rect x="1831.55" y="742.50" width="1.3" height="45.75" fill="#e8394b" opacity=".85"/>
<rect x="1828.95" y="753.75" width="6.5" height="12.50" fill="#e8394b"/>
<rect x="1839.70" y="751.25" width="1.3" height="140.00" fill="#e8394b" opacity=".85"/>
<rect x="1837.10" y="765.50" width="6.5" height="104.00" fill="#e8394b"/>
<rect x="1847.85" y="857.50" width="1.3" height="157.50" fill="#e8394b" opacity=".85"/>
<rect x="1845.25" y="869.25" width="6.5" height="73.75" fill="#e8394b"/>
<rect x="1855.99" y="914.00" width="1.3" height="66.00" fill="#12977f" opacity=".85"/>
<rect x="1853.39" y="914.50" width="6.5" height="28.50" fill="#12977f"/>
<rect x="1864.14" y="915.00" width="1.3" height="37.00" fill="#12977f" opacity=".85"/>
<rect x="1861.54" y="915.25" width="6.5" height="1.20" fill="#12977f"/>
<rect x="1872.28" y="880.00" width="1.3" height="45.50" fill="#12977f" opacity=".85"/>
<rect x="1869.68" y="908.00" width="6.5" height="8.25" fill="#12977f"/>
<rect x="1880.43" y="898.25" width="1.3" height="31.75" fill="#12977f" opacity=".85"/>
<rect x="1877.83" y="903.75" width="6.5" height="7.00" fill="#12977f"/>
<rect x="1888.58" y="898.25" width="1.3" height="73.75" fill="#e8394b" opacity=".85"/>
<rect x="1885.98" y="903.75" width="6.5" height="57.50" fill="#e8394b"/>
<rect x="1896.72" y="943.75" width="1.3" height="68.75" fill="#e8394b" opacity=".85"/>
<rect x="1894.12" y="959.50" width="6.5" height="6.75" fill="#e8394b"/>
<rect x="1904.87" y="909.25" width="1.3" height="71.50" fill="#12977f" opacity=".85"/>
<rect x="1902.27" y="962.50" width="6.5" height="6.25" fill="#12977f"/>
<rect x="1913.01" y="945.00" width="1.3" height="61.25" fill="#e8394b" opacity=".85"/>
<rect x="1910.41" y="962.00" width="6.5" height="25.50" fill="#e8394b"/>
<rect x="1921.16" y="960.50" width="1.3" height="28.50" fill="#12977f" opacity=".85"/>
<rect x="1918.56" y="973.75" width="6.5" height="15.00" fill="#12977f"/>
</g>
<line x1="4" y1="245.5" x2="1894" y2="245.5" stroke="#a6a9b2" stroke-width="1.2" stroke-dasharray="8 7.4"/>
<line x1="1758.7" y1="57" x2="1758.7" y2="1125" stroke="#a6a9b2" stroke-width="1.2" stroke-dasharray="6.8 7.9"/>
<rect x="4" y="1159.8" width="1993" height="2.2" fill="#eff0f2"/>
<rect x="342.6" y="1172" width="1.2" height="6" fill="#ececef"/>
</svg>
<div class="pl" style="top:111px">11,950</div>
<div class="pl" style="top:182px">11,900</div>
<div class="pl" style="top:252.5px">11,850</div>
<div class="pl" style="top:323px">11,800</div>
<div class="pl" style="top:393px">11,750</div>
<div class="pl" style="top:464px">11,700</div>
<div class="pl" style="top:534px">11,650</div>
<div class="pl" style="top:605px">11,600</div>
<div class="pl" style="top:675px">11,550</div>
<div class="pl" style="top:746px">11,500</div>
<div class="pl" style="top:816px">11,450</div>
<div class="pl" style="top:887px">11,400</div>
<div class="pl" style="top:1028px">11,300</div>
<div class="pl" style="top:1099px">11,250</div>
<div class="dl" style="left:101px">12</div>
<div class="dl" style="left:231px">13</div>
<div class="dl" style="left:361px">16</div>
<div class="dl" style="left:491px">17</div>
<div class="dl" style="left:621px">18</div>
<div class="dl" style="left:751px">19</div>
<div class="dl" style="left:881px">20</div>
<div class="dl" style="left:1011px">23</div>
<div class="dl" style="left:1141px">24</div>
<div class="dl" style="left:1271px">25</div>
<div class="dl" style="left:1401px">26</div>
<div class="dl" style="left:1531px">27</div>
<div class="fade" style="left:11px;top:60px;width:1440px;height:38px"></div>
<div class="fade" style="left:11px;top:98px;width:242px;height:52px"></div>
<div class="fade" style="left:11px;top:150px;width:86px;height:32px"></div>
<div class="fade" style="left:11px;top:182px;width:171px;height:31.5px"></div>
<div class="fade" style="left:11px;top:213.5px;width:65px;height:31.5px"></div>
<div class="fade" style="left:11px;top:245px;width:119px;height:31.5px"></div>
<!-- top toolbar -->
<svg class="abs" style="left:10px;top:14px" width="26" height="26" viewBox="0 0 26 26" fill="none" stroke="#2a2e39" stroke-width="2" stroke-linecap="round"><circle cx="12" cy="12.5" r="6.6"/><path d="M17 17.6 L21.6 22.2"/></svg>
<div class="t" id="tb_sym" style="left:41px;top:19px;font-size:17px;font-weight:700;color:#131722">CNYRUB.</div>
<svg class="abs" style="left:141px;top:14px" width="28" height="28" viewBox="0 0 28 28" fill="none" stroke="#2a2e39" stroke-width="1.5" stroke-linecap="round"><circle cx="14" cy="14" r="11.6"/><path d="M14 8.6 V19.4 M8.6 14 H19.4"/></svg>
<div class="sep" style="left:186px"></div>
<div class="t" id="tb_tf" style="margin-top:.5px;left:207px;top:19px;font-size:17px;color:#2a2e39">1ч</div>
<div class="sep" style="left:246px"></div>
<svg class="abs" style="left:265px;top:12px" width="28" height="32" viewBox="0 0 28 32" fill="none" stroke="#2a2e39" stroke-width="1.5"><path d="M8.5 2 V6.5 M8.5 25 V29.5 M18.5 6 V10.5 M18.5 21 V25.5"/><rect x="5.5" y="6.5" width="6" height="18.5" rx="1"/><rect x="15.7" y="10.5" width="5.6" height="10.5" rx="1"/></svg>
<div class="sep" style="left:308px"></div>
<svg class="abs" style="left:326px;top:12px" width="30" height="30" viewBox="0 0 30 30" fill="none" stroke="#2a2e39" stroke-width="1.5" stroke-linejoin="round" stroke-linecap="round"><path d="M3.5 12.5 L10 6.5 L14.5 9.5 L24.5 3.5"/><path d="M3.5 26.5 V20.5 H10 V26.5 M10 26.5 V16.5 H16.5 V26.5 M16.5 26.5 V12 H23.5 V26.5 M2.8 26.5 H24.2"/></svg>
<div class="t" id="tb_ind" style="margin-top:.5px;left:364px;top:19px;font-size:17px;color:#2a2e39">Индикаторы</div>
<svg class="abs" style="left:494px;top:16px" width="24" height="24" viewBox="0 0 24 24" fill="none" stroke="#2a2e39" stroke-width="1.5"><rect x="1.8" y="1.8" width="7.6" height="7.6" rx="2"/><rect x="13.6" y="1.8" width="7.6" height="7.6" rx="2"/><rect x="1.8" y="13.6" width="7.6" height="7.6" rx="2"/><rect x="13.6" y="13.6" width="7.6" height="7.6" rx="2"/></svg>
<div class="sep" style="left:536px"></div>
<svg class="abs" style="left:552px;top:12px" width="32" height="32" viewBox="0 0 32 32" fill="none" stroke="#2a2e39" stroke-width="1.5" stroke-linecap="round"><path d="M19.5 26.2 A11 11 0 1 1 26.6 17.2"/><path d="M14.5 10 V16.8 H10.2"/><path d="M3.2 7.2 L7.6 3.4 M22.4 3.4 L26.8 7.2"/><path d="M24.6 19.6 V29.2 M19.8 24.4 H29.4"/></svg>
<div class="t" id="tb_al" style="margin-top:.5px;left:591.5px;top:19px;font-size:17px;color:#2a2e39">Оповещения</div>
<svg class="abs" style="left:725px;top:18px" width="26" height="20" viewBox="0 0 26 20" fill="none" stroke="#2a2e39" stroke-width="1.5" stroke-linejoin="round"><path d="M10.5 3 V16 L2.5 9.5 Z"/><path d="M20.5 3 V16 L12.5 9.5 Z"/></svg>
<div class="t" id="tb_sim" style="margin-top:.5px;left:759.5px;top:19px;font-size:17px;color:#2a2e39">Симулятор рынка</div>
<div class="sep" style="left:929px"></div>
<svg class="abs" style="left:947px;top:16px" width="26" height="22" viewBox="0 0 26 22" fill="none" stroke="#2a2e39" stroke-width="1.6" stroke-linecap="round" stroke-linejoin="round"><path d="M9.5 4.5 L4.5 9.5 L9.5 14.5"/><path d="M4.8 9.5 H14.5 C18.2 9.5 20.2 12.2 20.2 17.2"/></svg>
<svg class="abs" style="left:996px;top:16px" width="26" height="22" viewBox="0 0 26 22" fill="none" stroke="#c4c6cc" stroke-width="1.6" stroke-linecap="round" stroke-linejoin="round"><path d="M16.5 4.5 L21.5 9.5 L16.5 14.5"/><path d="M21.2 9.5 H11.5 C7.8 9.5 5.8 12.2 5.8 17.2"/></svg>
<svg class="abs" style="left:1920px;top:15px" width="30" height="27" viewBox="0 0 30 27" fill="none" stroke="#4c4f58" stroke-width="1.6"><rect x="2.8" y="3" width="23.6" height="20.6" rx="3.2"/></svg>
<div class="t" id="tb_unn" style="left:1967px;top:13px;font-size:17px;color:#131722">Unnamed</div>
<div class="t" id="tb_save" style="left:1974px;top:32px;font-size:11px;color:#4a6cf0">Сохранить</div>

<!-- legend: title row -->
<svg class="abs" style="left:12px;top:66px" width="34" height="26" viewBox="0 0 34 26"><defs><clipPath id="ruflag"><circle cx="22" cy="10" r="6.2"/></clipPath></defs><g clip-path="url(#ruflag)"><rect x="15" y="3" width="14" height="4.4" fill="#f4f6fa"/><rect x="15" y="7.2" width="14" height="4.4" fill="#2f6fe0"/><rect x="15" y="11.4" width="14" height="5" fill="#e8404a"/></g><circle cx="11.6" cy="15.2" r="7.6" fill="#ea3f3c" stroke="#fff" stroke-width="1.2"/><path d="M8.2 11.6 l.7 1.5 1.6.2 -1.2 1.1 .3 1.6 -1.4-.8 -1.4.8 .3-1.6 -1.2-1.1 1.6-.2z" fill="#f7c948"/></svg>
<div class="t" id="lg_title" style="left:45px;top:70px;font-size:19.5px;color:#343843">Daily futures contract with automatic prolongation on CNY/RUB (CNYRUBF) · 1ч · RUS</div>
<div class="abs" style="left:859px;top:68px;width:51px;height:22px;border-radius:11px;overflow:hidden;background:linear-gradient(90deg,#d6f1ea 0,#d6f1ea 50%,#fbd6e0 50%,#fbd6e0 100%)"></div>
<div class="abs" style="left:868.5px;top:75px;width:8.6px;height:8.6px;border-radius:50%;background:#089981"></div>
<div class="t" id="lg_approx" style="left:890px;top:69.5px;font-size:17px;font-weight:700;color:#e0357a">≈</div>
<div class="t" id="lg_o" style="left:921px;top:71.5px;font-size:15.5px;color:#2a2e39">ОТКР</div>
<div class="t" id="lg_ov" style="left:966px;top:71.5px;font-size:15.5px;color:#ee3a4c">11,523</div>
<div class="t" id="lg_h" style="left:1023px;top:71.5px;font-size:15.5px;color:#2a2e39">МАКС</div>
<div class="t" id="lg_hv" style="left:1070px;top:71.5px;font-size:15.5px;color:#ee3a4c">11,531</div>
<div class="t" id="lg_l" style="left:1127px;top:71.5px;font-size:15.5px;color:#2a2e39">МИН</div>
<div class="t" id="lg_lv" style="left:1165px;top:71.5px;font-size:15.5px;color:#ee3a4c">11,473</div>
<div class="t" id="lg_c" style="left:1224px;top:71.5px;font-size:15.5px;color:#2a2e39">ЗАКР</div>
<div class="t" id="lg_cv" style="left:1265px;top:71.5px;font-size:15.5px;color:#ee3a4c">11,486</div>
<div class="t" id="lg_ch" style="left:1324px;top:71.5px;font-size:15.5px;color:#ee3a4c">−0,037 (−0,32%)</div>
<!-- buy / sell -->
<div class="abs" style="left:15.5px;top:100.5px;width:94.5px;height:43.5px;border:1.3px solid #ee5a68;border-radius:7px;background:#fff"></div>
<div class="t" id="sell_p" style="left:37px;top:105.5px;font-size:16px;font-weight:700;color:#ee4a59">11,217</div>
<div class="t" id="sell_l" style="left:29px;top:125px;font-size:13.5px;color:#ee4a59">ПРОДАТЬ</div>
<div class="t" id="spread" style="left:121px;top:116px;font-size:12.5px;color:#131722">0,000</div>
<div class="abs" style="left:163.5px;top:100.5px;width:85.5px;height:43.5px;border:1.3px solid #5b84ee;border-radius:7px;background:#fff"></div>
<div class="t" id="buy_p" style="left:181px;top:105.5px;font-size:16px;font-weight:700;color:#3d6ff0">11,217</div>
<div class="t" id="buy_l" style="left:178px;top:125px;font-size:13.5px;color:#3d6ff0">КУПИТЬ</div>
<!-- indicator rows -->
<div class="lg" id="lg1" style="top:158px">Fractals 5</div><svg class="abs" style="left:101.2px;top:156px" width="24" height="20" viewBox="0 0 24 20" fill="none" stroke="#3a3d46" stroke-width="1.8" stroke-linecap="round"><path d="M2.2 10 C5 4.6 9 3.6 12 3.6 C15 3.6 19 4.6 21.8 10 C19 15.4 15 16.4 12 16.4 C9 16.4 5 15.4 2.2 10 Z"/><circle cx="12" cy="10" r="3.2"/><path d="M5.5 17.5 L19.5 2.5"/></svg>
<div class="lg" id="lg2" style="top:190px">Alligator 13 8 5 8 5 3</div><svg class="abs" style="left:185.7px;top:187.3px" width="24" height="20" viewBox="0 0 24 20" fill="none" stroke="#3a3d46" stroke-width="1.8" stroke-linecap="round"><path d="M2.2 10 C5 4.6 9 3.6 12 3.6 C15 3.6 19 4.6 21.8 10 C19 15.4 15 16.4 12 16.4 C9 16.4 5 15.4 2.2 10 Z"/><circle cx="12" cy="10" r="3.2"/><path d="M5.5 17.5 L19.5 2.5"/></svg>
<div class="lg" id="lg3" style="top:221.5px">Объём</div><svg class="abs" style="left:80.4px;top:218.8px" width="24" height="20" viewBox="0 0 24 20" fill="none" stroke="#3a3d46" stroke-width="1.8" stroke-linecap="round"><path d="M2.2 10 C5 4.6 9 3.6 12 3.6 C15 3.6 19 4.6 21.8 10 C19 15.4 15 16.4 12 16.4 C9 16.4 5 15.4 2.2 10 Z"/><circle cx="12" cy="10" r="3.2"/><path d="M5.5 17.5 L19.5 2.5"/></svg>
<div class="lg" id="lg4" style="top:253px">EMA 200 close</div><svg class="abs" style="left:134.5px;top:250.7px" width="24" height="20" viewBox="0 0 24 20" fill="none" stroke="#3a3d46" stroke-width="1.8" stroke-linecap="round"><path d="M2.2 10 C5 4.6 9 3.6 12 3.6 C15 3.6 19 4.6 21.8 10 C19 15.4 15 16.4 12 16.4 C9 16.4 5 15.4 2.2 10 Z"/><circle cx="12" cy="10" r="3.2"/><path d="M5.5 17.5 L19.5 2.5"/></svg>
<div class="abs" style="left:15.5px;top:281px;width:37px;height:27px;border:1px solid #dfe1e7;border-radius:4px;background:#fff"></div>
<svg class="abs" style="left:25px;top:287px" width="18" height="14" viewBox="0 0 18 14" fill="none" stroke="#2a2e39" stroke-width="1.8" stroke-linecap="round" stroke-linejoin="round"><path d="M4.2 9.6 L9 5 L13.8 9.6"/></svg>
<!-- floating drawing toolbar -->
<div class="abs" style="left:495.5px;top:96px;width:181.5px;height:50px;border-radius:7px;background:#fff;box-shadow:0 2px 5px rgba(0,0,0,.18),0 0 1px rgba(0,0,0,.15)"></div>
<svg class="abs" style="left:495px;top:96px" width="182" height="50" viewBox="0 0 182 50" fill="none" stroke="#2a2e39" stroke-width="1.4">
<g fill="#d5d7de" stroke="none"><circle cx="12" cy="18.5" r="1.2"/><circle cx="20" cy="18.5" r="1.2"/><circle cx="12" cy="24.8" r="1.2"/><circle cx="20" cy="24.8" r="1.2"/><circle cx="12" cy="31.3" r="1.2"/><circle cx="20" cy="31.3" r="1.2"/></g>
<circle cx="45.3" cy="36.3" r="2.9"/><circle cx="67.7" cy="13.8" r="2.9"/><path d="M47.4 34.2 L60 21.5"/><path d="M65.4 16 L56.4 19.2 L62.3 25.2 Z" fill="#131722" stroke="#131722" stroke-linejoin="round"/>
<g transform="translate(-10.2,0.4)"><path d="M119.4 10.2 L110.2 19.4 C106.8 24 108 27.4 109 29 L102 35.6 L111.6 39 L115.4 35 C119 35.4 122.2 34.8 124.6 32.4 L133.4 24" stroke-linejoin="round" stroke-linecap="round"/><path d="M110.2 20 L124.4 32.6 M109 29 L115.4 35" stroke-linecap="round"/></g>
<circle cx="145.6" cy="13.8" r="3.1"/><circle cx="167.8" cy="13.8" r="3.1"/><circle cx="145.6" cy="36.3" r="3.1"/><circle cx="167.8" cy="36.3" r="3.1"/><path d="M148.7 13.8 H164.7 M148.7 36.3 H164.7 M145.6 16.9 V33.2 M167.8 16.9 V33.2" stroke-width="1.6"/>
</svg>

<!-- price axis boxes -->
<div class="abs" style="left:1898.5px;top:231.5px;width:27.5px;height:27.5px;background:#131722;border-radius:3px 0 0 3px"></div>
<svg class="abs" style="left:1898.5px;top:231.5px" width="28" height="28" viewBox="0 0 28 28" fill="none" stroke="#d8dae0" stroke-width="1.3"><circle cx="13.6" cy="13.8" r="9.6"/><path d="M13.6 9 V18.6 M8.8 13.8 H18.4"/></svg>
<div class="abs" style="left:1927.5px;top:231.5px;width:64.5px;height:27.5px;background:#131722;border-radius:0 3px 3px 0"></div>
<div class="t" id="ax_cross" style="left:1938px;top:236.2px;font-size:15.5px;font-weight:700;color:#fff">11,862</div>
<div class="abs" style="left:1928px;top:956px;width:64px;height:22.5px;background:#fff;border:1.3px solid #2fa590;border-radius:3px"></div>
<div class="t" id="ax_350" style="left:1938.5px;top:958.3px;font-size:15.5px;color:#1c9b84">11,350</div>
<div class="abs" style="left:1928px;top:1009px;width:64px;height:22px;background:#0f9a83;border-radius:2px"></div>
<div class="t" id="ax_313" style="left:1938px;top:1011.7px;font-size:15.5px;font-weight:700;color:#fff">11,313</div>
<!-- time crosshair label -->
<div class="abs" style="left:1673.5px;top:1122.5px;width:168px;height:31.5px;background:#131722;border-radius:2px"></div>
<div class="t" id="ax_time" style="left:1685px;top:1136px;font-size:14.5px;color:#fff">вт 30 сен '25</div><div class="t" id="ax_time2" style="left:1792px;top:1136px;font-size:14.5px;color:#fff">17:00</div>
<svg class="abs" style="left:1953px;top:1132px" width="20" height="20" viewBox="0 0 20 20" fill="none" stroke="#2a2e39" stroke-width="1.3"><circle cx="10" cy="10.4" r="7.4"/><circle cx="10" cy="10.4" r="2.6"/></svg>
<!-- bottom toolbar remnant -->
<svg class="abs" style="left:359px;top:1170px" width="30" height="8" viewBox="0 0 30 8" fill="none" stroke="#2a2e39" stroke-width="1.5"><path d="M3 8 V6.6 C3 5 4 4.3 5.4 4.3 H24 C25.4 4.3 26.6 5 26.6 6.6 V8"/><path d="M10.2 2.4 V6.5 M19.6 2.4 V6.5"/></svg>
<div class="abs" style="left:1760px;top:1157.5px;width:237px;height:20.5px;overflow:hidden"><div class="t" id="winact" style="left:3px;top:-11.5px;font-size:26.4px;color:#c6c6c8">Активация Windows</div></div>

<svg class="abs" style="left:0;top:0" width="2000" height="1178" viewBox="0 0 2000 1178">
<line x1="403.5" y1="734.9" x2="1902.5" y2="734.9" stroke="#f70d0d" stroke-width="5.4" stroke-linecap="round"/>
<polygon points="1812.1,669.1 1819.4,696.3 1807.2,698.4 1831.2,731.3 1835.6,691.0 1823.9,695.1 1816.7,667.9" fill="#f70d0d"/>
<polygon points="1806.8,1097.6 1830.3,1048.7 1840.7,1054.8 1844.5,1014.9 1814.8,1042.3 1826.0,1046.6 1802.4,1095.4" fill="#f70d0d"/>
<polygon points="297.8,134.5 249.1,69.0 259.6,63.1 225.0,41.7 235.1,79.9 244.4,72.4 293.2,137.9" fill="#f70d0d"/>
</svg>
<svg class="abs" style="left:18px;top:1082px" width="44" height="26" viewBox="0 0 44 26" fill="#131316"><path d="M1.9 3.2 H17.5 V22.7 H9.7 V11 H1.9 Z"/><circle cx="24.1" cy="7.1" r="3.75"/><path d="M31 3.2 H40.6 L34 22.7 H24.4 Z"/></svg>
<div class="t" id="tvlogo" style="left:68.5px;top:1082.4px;font-size:27.2px;font-weight:700;color:#131316;letter-spacing:0px">TradingView</div>

<svg class="abs" style="left:980px;top:1085px;overflow:visible" width="1020" height="93" viewBox="980 1085 1020 93" font-family="Liberation Sans, Arial, sans-serif" font-size="62.4">
<defs><filter id="wmblur" x="-5%" y="-30%" width="110%" height="160%"><feGaussianBlur stdDeviation="1.2"/></filter>
<mask id="wmmask" maskUnits="userSpaceOnUse" x="980" y="1085" width="1020" height="93"><rect x="980" y="1085" width="1020" height="93" fill="#fff"/><text x="1017.5" y="1155" fill="#000">Авторские права © Pocket Option</text></mask></defs>
<g mask="url(#wmmask)">
<text x="1017.5" y="1155" fill="none" stroke="#444" stroke-opacity=".55" stroke-width="6" stroke-linejoin="round" filter="url(#wmblur)">Авторские права © Pocket Option</text>
<text x="1017.5" y="1155" fill="none" stroke="#5c5c5c" stroke-width="2.4" stroke-linejoin="round">Авторские права © Pocket Option</text>
</g>
<text x="1017.5" y="1155" fill="#ffffff" fill-opacity=".62">Авторские права © Pocket Option</text>
</svg>

</body></html>
